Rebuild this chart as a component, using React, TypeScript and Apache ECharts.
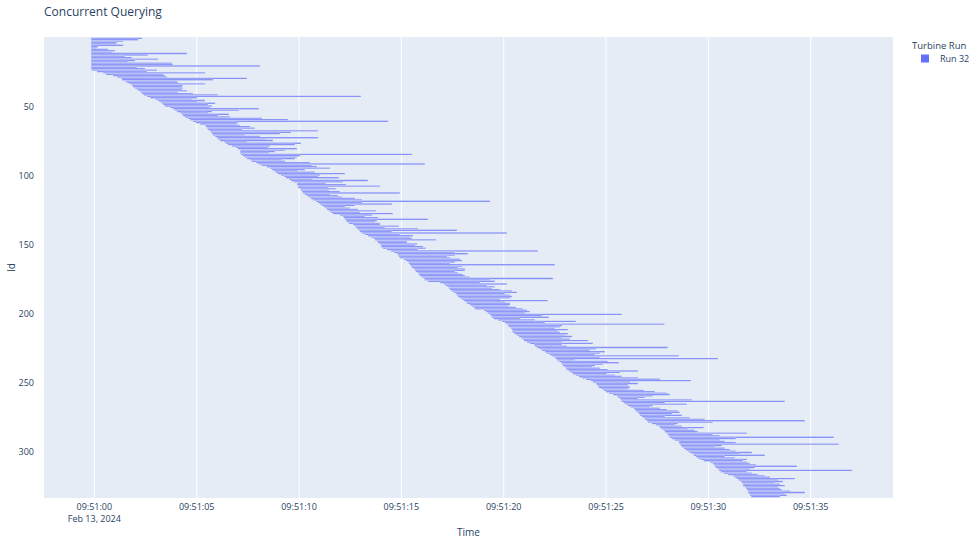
import React, { useEffect, useRef } from "react";
import * as echarts from "echarts";

// ---- data (seconds after 09:51:00, Feb 13 2024) ----
const chartTitle = "Concurrent Querying";
const legendTitle = "Turbine Run";
const runName = "Run 32";
const dateLabel = "Feb 13, 2024";

const startSec = [
  -0.16, -0.16, -0.16, -0.16, -0.16, -0.16, -0.16, -0.16, -0.16, -0.16,
  -0.16, -0.16, -0.16, -0.16, -0.16, -0.16, -0.16, -0.16, -0.16, -0.16,
  -0.16, -0.16, -0.16, -0.11, 0.13, 0.42, 0.57, 0.91, 1.11, 1.31,
  1.35, 1.50, 1.60, 1.74, 1.84, 1.89, 1.99, 2.09, 2.18, 2.28,
  2.33, 2.43, 2.57, 2.72, 2.97, 3.11, 3.21, 3.31, 3.36, 3.45,
  3.70, 3.84, 3.94, 4.04, 4.19, 4.28, 4.33, 4.43, 4.58, 4.68,
  4.82, 4.97, 5.16, 5.41, 5.46, 5.51, 5.55, 5.65, 5.70, 5.75,
  5.80, 5.90, 5.99, 6.04, 6.14, 6.34, 6.43, 6.53, 6.73, 6.92,
  7.02, 7.12, 7.12, 7.12, 7.17, 7.26, 7.36, 7.46, 7.61, 7.70,
  7.90, 8.04, 8.19, 8.43, 8.58, 8.68, 8.78, 8.87, 8.97, 9.12,
  9.27, 9.36, 9.51, 9.61, 9.75, 9.90, 9.90, 9.95, 9.95, 10.05,
  10.10, 10.15, 10.19, 10.29, 10.39, 10.49, 10.59, 10.68, 10.83, 10.93,
  11.03, 11.12, 11.22, 11.32, 11.37, 11.47, 11.56, 11.66, 12.00, 12.15,
  12.20, 12.25, 12.30, 12.35, 12.44, 12.64, 12.74, 12.79, 12.83, 12.93,
  12.98, 13.08, 13.22, 13.37, 13.52, 13.66, 13.71, 13.81, 13.86, 13.96,
  14.01, 14.01, 14.10, 14.30, 14.49, 14.64, 14.79, 14.84, 14.88, 14.93,
  15.13, 15.23, 15.33, 15.37, 15.42, 15.47, 15.52, 15.62, 15.67, 15.72,
  15.81, 15.86, 15.91, 16.01, 16.11, 16.15, 16.30, 16.89, 17.08, 17.18,
  17.28, 17.33, 17.38, 17.47, 17.57, 17.67, 17.72, 17.77, 17.87, 17.97,
  18.06, 18.16, 18.21, 18.35, 18.45, 18.55, 18.60, 19.04, 19.14, 19.23,
  19.33, 19.38, 19.43, 19.52, 19.72, 19.92, 20.06, 20.16, 20.21, 20.26,
  20.36, 20.41, 20.41, 20.45, 20.55, 20.65, 20.75, 20.85, 20.94, 20.99,
  21.14, 21.28, 21.48, 21.53, 21.63, 21.77, 21.87, 22.02, 22.11, 22.26,
  22.36, 22.50, 22.55, 22.60, 22.70, 22.80, 22.85, 22.89, 22.99, 23.04,
  23.09, 23.19, 23.29, 23.39, 23.53, 23.68, 23.82, 24.02, 24.26, 24.36,
  24.51, 24.56, 24.61, 24.66, 24.80, 24.90, 25.00, 25.14, 25.34, 25.53,
  25.58, 25.68, 25.73, 25.77, 25.87, 25.97, 26.07, 26.21, 26.36, 26.41,
  26.46, 26.56, 26.61, 26.66, 26.76, 26.85, 26.90, 27.00, 27.05, 27.24,
  27.44, 27.59, 27.64, 27.73, 27.83, 27.88, 27.97, 28.02, 28.07, 28.12,
  28.22, 28.36, 28.56, 28.56, 28.61, 28.66, 28.71, 28.81, 28.90, 29.00,
  29.10, 29.24, 29.29, 29.39, 29.49, 29.63, 29.78, 30.08, 30.22, 30.27,
  30.32, 30.37, 30.47, 30.52, 30.61, 30.76, 30.96, 31.20, 31.30, 31.40,
  31.49, 31.59, 31.64, 31.69, 31.69, 31.79, 31.84, 31.89, 31.94, 31.94,
  31.99, 32.04, 32.09,
];

const endSec = [
  2.33, 2.13, 1.41, 1.11, 1.06, 1.41, 0.18, 0.13, 0.67, 1.01,
  0.86, 4.53, 2.62, 1.50, 1.84, 3.11, 1.99, 1.65, 3.80, 3.84,
  8.09, 2.09, 2.48, 3.06, 2.57, 5.41, 3.36, 3.45, 3.55, 7.46,
  5.80, 4.04, 4.09, 5.41, 4.33, 4.28, 4.33, 4.28, 4.53, 4.09,
  4.82, 6.04, 13.03, 5.02, 4.77, 5.41, 5.02, 5.90, 5.55, 5.75,
  5.65, 8.04, 7.07, 5.75, 5.55, 6.58, 6.04, 6.63, 8.19, 9.46,
  14.35, 7.02, 6.97, 7.12, 7.61, 7.85, 7.22, 10.93, 9.61, 9.07,
  7.36, 8.09, 10.93, 8.39, 8.73, 7.46, 10.10, 9.80, 8.58, 8.48,
  9.90, 9.32, 8.83, 8.53, 15.52, 10.05, 9.90, 9.80, 9.17, 9.32,
  10.54, 16.15, 10.64, 10.88, 11.52, 10.29, 9.95, 10.78, 12.25, 11.03,
  10.93, 11.95, 10.64, 13.37, 12.15, 11.32, 12.30, 13.96, 11.42, 11.81,
  11.47, 12.00, 14.93, 11.52, 11.91, 12.10, 12.74, 13.08, 19.33, 13.08,
  14.54, 12.74, 12.25, 12.49, 12.88, 13.76, 12.98, 14.59, 13.57, 13.22,
  13.86, 16.30, 13.81, 13.71, 13.96, 13.96, 14.88, 14.20, 15.81, 17.72,
  14.54, 20.16, 14.93, 15.57, 15.42, 15.52, 16.69, 15.28, 15.28, 15.77,
  15.67, 16.06, 16.20, 15.81, 21.67, 17.62, 18.25, 17.62, 17.23, 17.38,
  17.87, 17.97, 17.62, 17.38, 22.50, 17.97, 17.77, 18.11, 18.11, 17.62,
  17.77, 18.01, 18.11, 18.35, 22.41, 19.33, 19.57, 18.84, 20.16, 19.18,
  19.57, 19.43, 19.82, 20.41, 20.65, 20.06, 20.31, 20.41, 20.31, 19.82,
  22.16, 20.06, 20.31, 20.31, 20.21, 20.60, 20.94, 21.14, 21.28, 21.04,
  25.77, 21.87, 22.21, 20.80, 21.53, 23.53, 22.02, 27.85, 22.85, 22.75,
  22.50, 23.14, 22.65, 22.75, 23.14, 22.99, 23.34, 22.85, 23.24, 24.12,
  22.85, 24.36, 22.85, 23.09, 28.02, 24.51, 24.21, 24.95, 24.70, 24.46,
  28.56, 24.70, 30.47, 23.48, 25.09, 25.63, 24.85, 24.46, 24.31, 24.70,
  25.09, 26.56, 25.68, 25.04, 25.43, 25.77, 26.56, 27.64, 29.15, 26.17,
  26.56, 26.07, 26.12, 26.17, 26.07, 26.85, 27.39, 27.97, 28.12, 27.29,
  26.90, 26.56, 29.20, 33.74, 27.88, 28.95, 27.29, 27.14, 27.64, 27.97,
  28.51, 28.61, 28.22, 28.71, 27.88, 29.10, 29.83, 34.72, 30.22, 28.51,
  28.36, 28.71, 29.78, 29.00, 29.34, 29.49, 31.88, 30.22, 30.57, 36.13,
  31.34, 30.57, 30.81, 31.34, 36.37, 30.66, 30.32, 30.81, 31.05, 31.34,
  32.13, 31.54, 32.76, 30.81, 31.29, 31.88, 31.69, 31.88, 32.03, 32.32,
  34.33, 32.27, 32.03, 37.02, 31.88, 32.13, 32.42, 32.76, 33.01, 34.23,
  33.40, 33.64, 33.25, 33.50, 33.74, 33.40, 33.50, 33.59, 33.99, 34.72,
  33.74, 33.84, 33.50,
];

const gridSeconds = [0, 5, 10, 15, 20, 25, 30, 35];
const axisMinSec = -2.46;
const axisMaxSec = 39.02;
const idMin = 0;
const idMax = 334;
const idTickStep = 50;

const baseTime = new Date(2024, 1, 13, 9, 51, 0).getTime();

const pad = (n: number) => (n < 10 ? "0" + n : String(n));
const fmtTime = (ms: number) => {
  const d = new Date(ms);
  return pad(d.getHours()) + ":" + pad(d.getMinutes()) + ":" + pad(d.getSeconds());
};

export default function App() {
  const ref = useRef<HTMLDivElement>(null);

  useEffect(() => {
    if (!ref.current) return;
    const chart = echarts.init(ref.current, null, { renderer: "svg" });
    const font = '"Open Sans", verdana, arial, sans-serif';
    const textColor = "#2a3f5f";
    const barColor = "#636efa";

    const barData = startSec.map((s, i) => [
      baseTime + s * 1000,
      baseTime + endSec[i] * 1000,
      i + 1,
    ]);
    const gridData = gridSeconds.map((s) => [baseTime + s * 1000, idMin]);

    chart.setOption({
      animation: false,
      backgroundColor: "#ffffff",
      textStyle: { fontFamily: font },
      title: {
        text: chartTitle,
        left: 39,
        top: 0,
        textStyle: { fontSize: 12, fontWeight: "normal", color: textColor, fontFamily: font },
      },
      graphic: [
        {
          type: "text",
          left: 912,
          top: 40,
          style: { text: legendTitle, fontSize: 9.5, fill: textColor, fontFamily: font },
        },
      ],
      legend: {
        data: [runName],
        left: 916,
        top: 49,
        icon: "rect",
        itemWidth: 8,
        itemHeight: 8,
        selectedMode: false,
        textStyle: { fontSize: 9, color: textColor, fontFamily: font, padding: [0, 0, 0, 6] },
      },
      grid: {
        left: 44,
        top: 37,
        right: 76,
        bottom: 42,
        show: true,
        backgroundColor: "#E5ECF6",
        borderWidth: 0,
        containLabel: false,
        outerBoundsMode: "none",
      },
      xAxis: {
        type: "time",
        min: baseTime + axisMinSec * 1000,
        max: baseTime + axisMaxSec * 1000,
        axisLine: { show: false },
        axisTick: { show: false },
        axisLabel: { show: false },
        splitLine: { show: false },
        name: "Time",
        nameLocation: "middle",
        nameGap: 29,
        nameMoveOverlap: false,
        nameTextStyle: { fontSize: 10, color: textColor, fontFamily: font },
      },
      yAxis: {
        type: "value",
        inverse: true,
        min: idMin,
        max: idMax,
        interval: idTickStep,
        axisLine: { show: false },
        axisTick: { show: false },
        splitLine: { show: false },
        axisLabel: {
          fontSize: 9,
          color: textColor,
          fontFamily: font,
          margin: 10,
          formatter: (v: number) => (v > 0 && v % idTickStep === 0 ? String(v) : ""),
        },
        name: "Id",
        nameLocation: "middle",
        nameGap: 28,
        nameMoveOverlap: false,
        nameTextStyle: { fontSize: 10, color: textColor, fontFamily: font },
      },
      series: [
        {
          name: "grid",
          type: "custom",
          silent: true,
          z: 1,
          clip: false,
          encode: { x: 0, y: 1 },
          data: gridData,
          renderItem: (params: any, api: any) => {
            const cs = params.coordSys;
            const t = api.value(0);
            const p = api.coord([t, idMin]);
            const x = p[0];
            const label = fmtTime(t) + (params.dataIndex === 0 ? "\n" + dateLabel : "");
            return {
              type: "group",
              children: [
                {
                  type: "line",
                  shape: { x1: x, y1: cs.y, x2: x, y2: cs.y + cs.height },
                  style: { stroke: "#ffffff", lineWidth: 1 },
                },
                {
                  type: "text",
                  style: {
                    text: label,
                    x: x,
                    y: cs.y + cs.height + 2,
                    align: "center",
                    verticalAlign: "top",
                    fill: textColor,
                    fontSize: 9,
                    fontFamily: font,
                    lineHeight: 12,
                  },
                },
              ],
            };
          },
        },
        {
          name: runName,
          type: "custom",
          z: 2,
          itemStyle: { color: barColor },
          encode: { x: [0, 1], y: 2 },
          data: barData,
          renderItem: (params: any, api: any) => {
            const id = api.value(2);
            const s = api.coord([api.value(0), id]);
            const e = api.coord([api.value(1), id]);
            const h = Math.abs(api.size([0, 1])[1]);
            return {
              type: "rect",
              shape: { x: s[0], y: s[1] - h / 2, width: e[0] - s[0], height: h },
              style: { fill: barColor, stroke: "#E5ECF6", lineWidth: 0.5 },
            };
          },
        },
      ],
    });

    return () => chart.dispose();
  }, []);

  return (
    <div
      ref={ref}
      style={{ position: "fixed", left: 0, top: 0, width: 969, height: 540 }}
    />
  );
}
